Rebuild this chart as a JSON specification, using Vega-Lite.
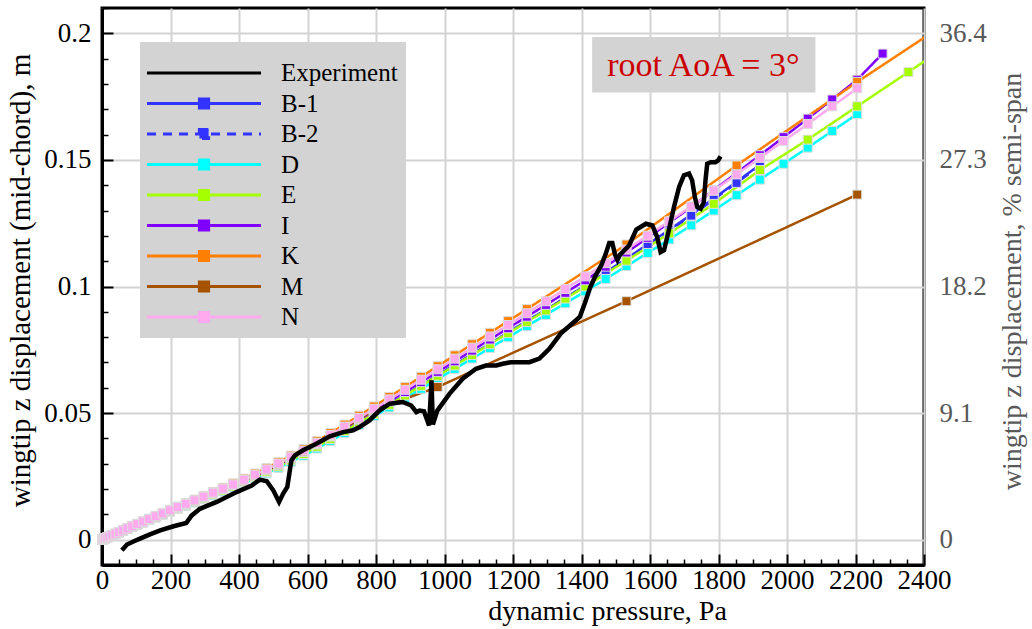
{
  "$schema": "https://vega.github.io/schema/vega-lite/v6.json",
  "width": 822,
  "height": 557,
  "autosize": {"type": "none"},
  "padding": {"left": 102, "top": 8, "right": 108, "bottom": 64},
  "background": "white",
  "config": {
    "font": "Liberation Serif",
    "view": {"stroke": "black", "strokeWidth": 3},
    "axis": {"labelFont": "Liberation Serif", "titleFont": "Liberation Serif", "labelFontSize": 27, "titleFontSize": 28, "titleFontWeight": "normal", "labelColor": "black", "titleColor": "black", "domainColor": "black", "domainWidth": 3, "tickColor": "black", "gridColor": "#d3d3d3", "gridWidth": 2, "labelOverlap": false, "labelFlush": false}
  },
  "datasets": {
    "sim": [
      {"q": 0, "B-1": 0, "B-2": 0, "D": 0, "E": 0, "I": 0, "K": 0, "M": 0, "N": 0},
      {"q": 0.61, "B-1": 0.00004, "B-2": 0.00004, "D": 0.00004, "E": 0.00004, "I": 0.00004, "K": 0.00004, "M": 0.00004, "N": 0.00004},
      {"q": 2.45, "B-1": 0.00014, "B-2": 0.00014, "D": 0.00014, "E": 0.00014, "I": 0.00015, "K": 0.00015, "M": 0.00015, "N": 0.00015},
      {"q": 5.51, "B-1": 0.00032, "B-2": 0.00032, "D": 0.00031, "E": 0.00032, "I": 0.00033, "K": 0.00034, "M": 0.00033, "N": 0.00033},
      {"q": 9.8, "B-1": 0.00057, "B-2": 0.00057, "D": 0.00056, "E": 0.00057, "I": 0.00058, "K": 0.0006, "M": 0.00058, "N": 0.00059},
      {"q": 15.31, "B-1": 0.00089, "B-2": 0.00089, "D": 0.00087, "E": 0.00089, "I": 0.00091, "K": 0.00094, "M": 0.00091, "N": 0.00092},
      {"q": 22.05, "B-1": 0.00127, "B-2": 0.00127, "D": 0.00124, "E": 0.00127, "I": 0.0013, "K": 0.00134, "M": 0.00131, "N": 0.00132},
      {"q": 30.01, "B-1": 0.00174, "B-2": 0.00174, "D": 0.0017, "E": 0.00173, "I": 0.00177, "K": 0.00183, "M": 0.00178, "N": 0.0018},
      {"q": 39.2, "B-1": 0.00227, "B-2": 0.00227, "D": 0.00222, "E": 0.00226, "I": 0.00231, "K": 0.00239, "M": 0.00233, "N": 0.00235},
      {"q": 49.61, "B-1": 0.00288, "B-2": 0.00288, "D": 0.00281, "E": 0.00287, "I": 0.00294, "K": 0.00303, "M": 0.00295, "N": 0.00298},
      {"q": 61.25, "B-1": 0.00355, "B-2": 0.00355, "D": 0.00347, "E": 0.00354, "I": 0.00362, "K": 0.00375, "M": 0.00364, "N": 0.00368},
      {"q": 74.11, "B-1": 0.00429, "B-2": 0.00429, "D": 0.0042, "E": 0.00428, "I": 0.00438, "K": 0.00453, "M": 0.00441, "N": 0.00445},
      {"q": 88.2, "B-1": 0.0051, "B-2": 0.0051, "D": 0.00499, "E": 0.00509, "I": 0.00521, "K": 0.00539, "M": 0.00524, "N": 0.00529},
      {"q": 103.51, "B-1": 0.00598, "B-2": 0.00598, "D": 0.00585, "E": 0.00596, "I": 0.00611, "K": 0.00631, "M": 0.00614, "N": 0.0062},
      {"q": 120.05, "B-1": 0.00689, "B-2": 0.00689, "D": 0.00673, "E": 0.00687, "I": 0.00703, "K": 0.00727, "M": 0.00707, "N": 0.00714},
      {"q": 137.81, "B-1": 0.00787, "B-2": 0.00787, "D": 0.0077, "E": 0.00785, "I": 0.00804, "K": 0.00831, "M": 0.00808, "N": 0.00816},
      {"q": 156.8, "B-1": 0.00892, "B-2": 0.00892, "D": 0.00871, "E": 0.00889, "I": 0.0091, "K": 0.00941, "M": 0.00915, "N": 0.00924},
      {"q": 177.01, "B-1": 0.01003, "B-2": 0.01003, "D": 0.0098, "E": 0.01, "I": 0.01023, "K": 0.01058, "M": 0.01029, "N": 0.01039},
      {"q": 198.45, "B-1": 0.0112, "B-2": 0.0112, "D": 0.01095, "E": 0.01117, "I": 0.01144, "K": 0.01182, "M": 0.01149, "N": 0.01161},
      {"q": 221.11, "B-1": 0.01241, "B-2": 0.01241, "D": 0.01213, "E": 0.01237, "I": 0.01267, "K": 0.01309, "M": 0.01273, "N": 0.01286},
      {"q": 245, "B-1": 0.01368, "B-2": 0.01368, "D": 0.01337, "E": 0.01364, "I": 0.01397, "K": 0.01444, "M": 0.01404, "N": 0.01418},
      {"q": 270.11, "B-1": 0.01502, "B-2": 0.01502, "D": 0.01467, "E": 0.01497, "I": 0.01533, "K": 0.01584, "M": 0.0154, "N": 0.01556},
      {"q": 296.45, "B-1": 0.01641, "B-2": 0.01641, "D": 0.01603, "E": 0.01635, "I": 0.01675, "K": 0.01731, "M": 0.01683, "N": 0.017},
      {"q": 324.01, "B-1": 0.01789, "B-2": 0.01789, "D": 0.01748, "E": 0.01784, "I": 0.01826, "K": 0.01887, "M": 0.01835, "N": 0.01854},
      {"q": 352.8, "B-1": 0.01945, "B-2": 0.01945, "D": 0.01901, "E": 0.01939, "I": 0.01986, "K": 0.02052, "M": 0.01996, "N": 0.02016},
      {"q": 382.81, "B-1": 0.02108, "B-2": 0.02108, "D": 0.0206, "E": 0.02101, "I": 0.02151, "K": 0.02223, "M": 0.02162, "N": 0.02184},
      {"q": 414.05, "B-1": 0.02284, "B-2": 0.02284, "D": 0.02232, "E": 0.02277, "I": 0.02331, "K": 0.0241, "M": 0.02343, "N": 0.02367},
      {"q": 446.51, "B-1": 0.02478, "B-2": 0.02478, "D": 0.02422, "E": 0.0247, "I": 0.02529, "K": 0.02614, "M": 0.02542, "N": 0.02568},
      {"q": 480.2, "B-1": 0.0268, "B-2": 0.0268, "D": 0.02619, "E": 0.02671, "I": 0.02735, "K": 0.02827, "M": 0.02749, "N": 0.02777},
      {"q": 515.11, "B-1": 0.02901, "B-2": 0.02901, "D": 0.02835, "E": 0.02892, "I": 0.02961, "K": 0.0306, "M": 0.02976, "N": 0.03006},
      {"q": 551.25, "B-1": 0.03145, "B-2": 0.03145, "D": 0.03073, "E": 0.03135, "I": 0.0321, "K": 0.03318, "M": 0.03226, "N": 0.03259},
      {"q": 588.61, "B-1": 0.03397, "B-2": 0.03397, "D": 0.03319, "E": 0.03386, "I": 0.03467, "K": 0.03583, "M": 0.03485, "N": 0.0352},
      {"q": 627.2, "B-1": 0.03684, "B-2": 0.03684, "D": 0.036, "E": 0.03673, "I": 0.03761, "K": 0.03887, "M": 0.0378, "N": 0.03818},
      {"q": 667.01, "B-1": 0.03991, "B-2": 0.03991, "D": 0.039, "E": 0.03979, "I": 0.04074, "K": 0.0421, "M": 0.04095, "N": 0.04136},
      {"q": 708.05, "B-1": 0.0431, "B-2": 0.0431, "D": 0.04211, "E": 0.04296, "I": 0.04399, "K": 0.04546, "M": 0.04421, "N": 0.04466},
      {"q": 750.31, "B-1": 0.04644, "B-2": 0.04644, "D": 0.04538, "E": 0.04629, "I": 0.0474, "K": 0.04899, "M": 0.04764, "N": 0.04812},
      {"q": 793.8, "B-1": 0.04988, "B-2": 0.04988, "D": 0.04874, "E": 0.04973, "I": 0.05091, "K": 0.05262, "M": 0.05117, "N": 0.05169},
      {"q": 838.51, "B-1": 0.05346, "B-2": 0.05346, "D": 0.05224, "E": 0.05329, "I": 0.05457, "K": 0.0564, "N": 0.0554},
      {"q": 884.45, "B-1": 0.05714, "B-2": 0.05714, "D": 0.05584, "E": 0.05696, "I": 0.05832, "K": 0.06028, "N": 0.05921},
      {"q": 931.61, "B-1": 0.06098, "B-2": 0.06098, "D": 0.05959, "E": 0.06079, "I": 0.06224, "K": 0.06433, "N": 0.06319},
      {"q": 980, "B-1": 0.06494, "B-2": 0.06494, "D": 0.06346, "E": 0.06474, "I": 0.06629, "K": 0.06851, "M": 0.0603, "N": 0.0673},
      {"q": 1029.61, "B-1": 0.06902, "B-2": 0.06902, "D": 0.06744, "E": 0.0688, "I": 0.07045, "K": 0.07281, "N": 0.07152},
      {"q": 1080.45, "B-1": 0.07319, "B-2": 0.07319, "D": 0.07152, "E": 0.07296, "I": 0.0747, "K": 0.07721, "N": 0.07584},
      {"q": 1132.51, "B-1": 0.07745, "B-2": 0.07745, "D": 0.07569, "E": 0.07721, "I": 0.07906, "K": 0.0817, "N": 0.08026},
      {"q": 1185.8, "B-1": 0.08182, "B-2": 0.08182, "D": 0.07996, "E": 0.08157, "I": 0.08352, "K": 0.08632, "N": 0.08479},
      {"q": 1240.31, "B-1": 0.0863, "B-2": 0.0863, "D": 0.08433, "E": 0.08603, "I": 0.08809, "K": 0.09104, "N": 0.08943},
      {"q": 1296.05, "B-1": 0.09086, "B-2": 0.09086, "D": 0.08879, "E": 0.09058, "I": 0.09275, "N": 0.09416},
      {"q": 1353.01, "B-1": 0.09554, "B-2": 0.09554, "D": 0.09336, "E": 0.09524, "I": 0.09752, "N": 0.099},
      {"q": 1411.2, "B-1": 0.10035, "B-2": 0.10035, "D": 0.09806, "E": 0.10004, "I": 0.10243, "N": 0.10399},
      {"q": 1470.61, "B-1": 0.10561, "B-2": 0.10531, "D": 0.10299, "I": 0.10785, "N": 0.10921},
      {"q": 1531.25, "B-1": 0.11103, "B-2": 0.11063, "D": 0.10805, "E": 0.11023, "I": 0.11345, "K": 0.1166, "M": 0.0942, "N": 0.11458},
      {"q": 1593.11, "B-1": 0.11662, "B-2": 0.11622, "D": 0.11324, "I": 0.11923, "N": 0.12009},
      {"q": 1656.2, "B-1": 0.12239, "B-2": 0.12199, "D": 0.11859, "E": 0.12098, "I": 0.1252, "N": 0.12576},
      {"q": 1720.51, "B-1": 0.1284, "B-2": 0.128, "D": 0.12415, "I": 0.13142, "N": 0.13165},
      {"q": 1786.05, "B-1": 0.13477, "B-2": 0.13437, "D": 0.13001, "E": 0.13263, "I": 0.13802, "N": 0.13787},
      {"q": 1852.81, "B-1": 0.14134, "B-2": 0.14094, "D": 0.13605, "I": 0.14483, "K": 0.1478, "N": 0.14427},
      {"q": 1920.8, "B-1": 0.14809, "B-2": 0.14769, "D": 0.1422, "E": 0.146, "I": 0.15183, "N": 0.1508},
      {"q": 1990.01, "D": 0.14847, "I": 0.15898, "N": 0.15744},
      {"q": 2060.45, "D": 0.15484, "E": 0.158, "I": 0.1663, "N": 0.1642},
      {"q": 2132.11, "D": 0.1614, "I": 0.17387, "N": 0.17115},
      {"q": 2205, "D": 0.16813, "E": 0.17116, "I": 0.18168, "K": 0.1808, "M": 0.1363, "N": 0.17829},
      {"q": 2279.11, "I": 0.192},
      {"q": 2354.45, "E": 0.1847},
      {"q": 2508.8, "E": 0.1987},
      {"q": 2587.81, "K": 0.215}
    ],
    "exp": [
      {"i": 0, "q": 58, "y": -0.0042}, {"i": 1, "q": 73, "y": -0.0019}, {"i": 2, "q": 95, "y": -0.0005}, {"i": 3, "q": 111, "y": 0.0004},
      {"i": 4, "q": 140, "y": 0.0021}, {"i": 5, "q": 170, "y": 0.0037}, {"i": 6, "q": 209, "y": 0.0053}, {"i": 7, "q": 246, "y": 0.0066},
      {"i": 8, "q": 262, "y": 0.0096}, {"i": 9, "q": 286, "y": 0.0122}, {"i": 10, "q": 335, "y": 0.0149}, {"i": 11, "q": 393, "y": 0.0188},
      {"i": 12, "q": 437, "y": 0.0214}, {"i": 13, "q": 461, "y": 0.0237}, {"i": 14, "q": 481, "y": 0.0231}, {"i": 15, "q": 500, "y": 0.0195},
      {"i": 16, "q": 517, "y": 0.0149}, {"i": 17, "q": 529, "y": 0.0182}, {"i": 18, "q": 541, "y": 0.0208}, {"i": 19, "q": 547, "y": 0.0261},
      {"i": 20, "q": 553, "y": 0.0313}, {"i": 21, "q": 563, "y": 0.0333}, {"i": 22, "q": 587, "y": 0.0353}, {"i": 23, "q": 626, "y": 0.0379},
      {"i": 24, "q": 665, "y": 0.0408}, {"i": 25, "q": 704, "y": 0.0425}, {"i": 26, "q": 733, "y": 0.0432}, {"i": 27, "q": 752, "y": 0.0445},
      {"i": 28, "q": 781, "y": 0.0471}, {"i": 29, "q": 810, "y": 0.051}, {"i": 30, "q": 840, "y": 0.0537}, {"i": 31, "q": 878, "y": 0.0544},
      {"i": 32, "q": 903, "y": 0.053}, {"i": 33, "q": 918, "y": 0.0504}, {"i": 34, "q": 927, "y": 0.051}, {"i": 35, "q": 940, "y": 0.0507},
      {"i": 36, "q": 955, "y": 0.0451}, {"i": 37, "q": 962, "y": 0.0629}, {"i": 38, "q": 966, "y": 0.0455}, {"i": 39, "q": 979, "y": 0.051},
      {"i": 40, "q": 1015, "y": 0.0577}, {"i": 41, "q": 1053, "y": 0.0636}, {"i": 42, "q": 1092, "y": 0.0675}, {"i": 43, "q": 1121, "y": 0.0688},
      {"i": 44, "q": 1151, "y": 0.0688}, {"i": 45, "q": 1170, "y": 0.0695}, {"i": 46, "q": 1194, "y": 0.0701}, {"i": 47, "q": 1218, "y": 0.0701},
      {"i": 48, "q": 1248, "y": 0.0701}, {"i": 49, "q": 1277, "y": 0.0715}, {"i": 50, "q": 1306, "y": 0.0754}, {"i": 51, "q": 1340, "y": 0.0815},
      {"i": 52, "q": 1374, "y": 0.0855}, {"i": 53, "q": 1395, "y": 0.088}, {"i": 54, "q": 1410, "y": 0.0935}, {"i": 55, "q": 1425, "y": 0.0995},
      {"i": 56, "q": 1440, "y": 0.104}, {"i": 57, "q": 1458, "y": 0.1085}, {"i": 58, "q": 1471, "y": 0.113}, {"i": 59, "q": 1481, "y": 0.1172},
      {"i": 60, "q": 1490, "y": 0.1172}, {"i": 61, "q": 1498, "y": 0.1125}, {"i": 62, "q": 1505, "y": 0.1105}, {"i": 63, "q": 1512, "y": 0.1125},
      {"i": 64, "q": 1539, "y": 0.1162}, {"i": 65, "q": 1560, "y": 0.1225}, {"i": 66, "q": 1588, "y": 0.1248}, {"i": 67, "q": 1607, "y": 0.1241},
      {"i": 68, "q": 1621, "y": 0.1195}, {"i": 69, "q": 1631, "y": 0.1136}, {"i": 70, "q": 1641, "y": 0.1143}, {"i": 71, "q": 1655, "y": 0.1222},
      {"i": 72, "q": 1670, "y": 0.1314}, {"i": 73, "q": 1685, "y": 0.1393}, {"i": 74, "q": 1699, "y": 0.1439}, {"i": 75, "q": 1714, "y": 0.1446},
      {"i": 76, "q": 1723, "y": 0.1419}, {"i": 77, "q": 1731, "y": 0.1353}, {"i": 78, "q": 1738, "y": 0.1314}, {"i": 79, "q": 1748, "y": 0.1307},
      {"i": 80, "q": 1757, "y": 0.1333}, {"i": 81, "q": 1762, "y": 0.1419}, {"i": 82, "q": 1767, "y": 0.1485}, {"i": 83, "q": 1777, "y": 0.1491},
      {"i": 84, "q": 1791, "y": 0.1491}, {"i": 85, "q": 1799, "y": 0.1498}, {"i": 86, "q": 1806, "y": 0.1514}
    ]
  },
  "resolve": {"axis": {"x": "independent", "y": "independent"}},
  "layer": [
    {
      "data": {"values": [{"q": 1431, "q2": 2083, "y": 0.17658, "y2": 0.19854}]},
      "mark": {"type": "rect", "color": "#d3d3d3"},
      "encoding": {
        "x": {"field": "q", "type": "quantitative", "scale": {"domain": [0, 2400], "nice": false, "zero": false},
          "axis": {"orient": "bottom", "values": [0, 200, 400, 600, 800, 1000, 1200, 1400, 1600, 1800, 2000, 2200, 2400], "format": "d",
            "grid": true, "ticks": true, "domain": true, "tickSize": -11, "tickWidth": 2,
            "labelPadding": 13, "title": "dynamic pressure, Pa", "titlePadding": 4, "titleX": 505}},
        "x2": {"field": "q2"},
        "y": {"field": "y", "type": "quantitative", "scale": {"domain": [-0.01, 0.21], "nice": false, "zero": false},
          "axis": {"orient": "left", "values": [0, 0.05, 0.1, 0.15, 0.2],
            "labelExpr": "toString(round(datum.value*100)/100)",
            "grid": true, "ticks": true, "domain": true, "tickSize": -11, "tickWidth": 2,
            "labelPadding": 22, "title": "wingtip z displacement (mid-chord), m", "titleFontSize": 29, "titlePadding": 8, "titleY": 272}},
        "y2": {"field": "y2"}
      }
    },
    {
      "data": {"values": [{"q": 1756, "y": 0.1831, "label": "root AoA = 3°"}]},
      "mark": {"type": "text", "font": "Liberation Serif", "fontSize": 34, "color": "#cc0000", "align": "center", "baseline": "alphabetic"},
      "encoding": {
        "x": {"field": "q", "type": "quantitative", "scale": {"domain": [0, 2400], "nice": false, "zero": false},
          "axis": {"orient": "bottom", "values": [50,100,150,250,300,350,450,500,550,650,700,750,850,900,950,1050,1100,1150,1250,1300,1350,1450,1500,1550,1650,1700,1750,1850,1900,1950,2050,2100,2150,2250,2300,2350],
            "labels": false, "grid": false, "domain": false, "ticks": true, "tickSize": -6, "tickWidth": 1.5, "title": null}},
        "y": {"field": "y", "type": "quantitative", "scale": {"domain": [-0.01, 0.21], "nice": false, "zero": false},
          "axis": {"orient": "right", "values": [0, 0.05, 0.1, 0.15, 0.2], "labelExpr": "datum.value === 0 ? '0' : format(datum.value*182, '.1f')", "ticks": false, "grid": false, "domain": false, "labelPadding": 15, "labelColor": "#595959", "titleColor": "#595959", "title": "wingtip z displacement, % semi-span", "titleAngle": 270, "titleBaseline": "top", "titlePadding": 12, "titleY": 273}},
        "text": {"field": "label"}
      }
    },
    {
      "data": {"name": "sim"},
      "transform": [{"fold": ["B-1", "B-2", "D", "E", "I", "K", "M", "N"], "as": ["series", "y"]}, {"filter": "isValid(datum.y)"}],
      "mark": {"type": "line", "strokeWidth": 2.5, "clip": true},
      "encoding": {
        "x": {"field": "q", "type": "quantitative", "scale": {"domain": [0, 2400], "nice": false, "zero": false}, "axis": null},
        "y": {"field": "y", "type": "quantitative", "scale": {"domain": [-0.01, 0.21], "nice": false, "zero": false},
          "axis": {"orient": "left", "values": [-0.01,0.01,0.02,0.03,0.04,0.06,0.07,0.08,0.09,0.11,0.12,0.13,0.14,0.16,0.17,0.18,0.19,0.21],
            "labels": false, "grid": false, "domain": false, "ticks": true, "tickSize": -6, "tickWidth": 1.5, "title": null}},
        "color": {"field": "series", "type": "nominal",
          "scale": {"domain": ["Experiment", "B-1", "B-2", "D", "E", "I", "K", "M", "N"], "range": ["#000000", "#3333ff", "#3333ff", "#00ffff", "#a6ff00", "#8000ff", "#ff8000", "#a65300", "#ffaaee"]},
          "legend": {"orient": "none", "legendX": 38, "legendY": 34, "title": " ", "titleFontSize": 6, "titlePadding": 4.5, "fillColor": "#d3d3d3", "padding": 8, "labelFont": "Liberation Serif", "labelFontSize": 25, "labelColor": "black", "labelOffset": 64.5, "symbolOffset": 43.5, "rowPadding": 4.5, "symbolSize": 100, "symbolStrokeWidth": 3, "labelLimit": 400,
            "encode": {"symbols": {"update": {
              "shape": {"signal": "datum.value === 'Experiment' ? 'M-11.4,0H11.4' : 'M-11.4,0H11.4M-0.92,-0.92H0.92V0.92H-0.92Z'"},
              "fill": {"scale": "color", "field": "value"},
              "stroke": {"scale": "color", "field": "value"},
              "strokeDash": {"signal": "datum.value === 'B-2' ? [9,7] : [1,0]"},
              "strokeWidth": {"value": 3},
              "size": {"value": 100},
              "opacity": {"value": 1}
            }}}}},
        "strokeDash": {"field": "series", "type": "nominal",
          "scale": {"domain": ["Experiment", "B-1", "B-2", "D", "E", "I", "K", "M", "N"], "range": [[1, 0], [1, 0], [9, 7], [1, 0], [1, 0], [1, 0], [1, 0], [1, 0], [1, 0]]}, "legend": null}
      }
    },
    {
      "data": {"name": "sim"},
      "transform": [{"fold": ["B-1", "B-2", "D", "E", "I", "K", "M", "N"], "as": ["series", "y"]}, {"filter": "isValid(datum.y)"}, {"filter": "datum.q <= 2400"}],
      "mark": {"type": "point", "shape": "square", "filled": true, "size": 81, "stroke": "#dddddd", "strokeWidth": 1, "opacity": 1},
      "encoding": {
        "x": {"field": "q", "type": "quantitative", "scale": {"domain": [0, 2400], "nice": false, "zero": false}, "axis": null},
        "y": {"field": "y", "type": "quantitative", "scale": {"domain": [-0.01, 0.21], "nice": false, "zero": false}, "axis": null},
        "color": {"field": "series", "type": "nominal", "legend": null},
        "order": {"field": "series", "type": "ordinal", "sort": "ascending"}
      }
    },
    {
      "data": {"name": "exp"},
      "mark": {"type": "line", "strokeWidth": 4.5, "color": "#000000", "clip": true},
      "encoding": {
        "x": {"field": "q", "type": "quantitative", "scale": {"domain": [0, 2400], "nice": false, "zero": false}, "axis": null},
        "y": {"field": "y", "type": "quantitative", "scale": {"domain": [-0.01, 0.21], "nice": false, "zero": false}, "axis": null},
        "order": {"field": "i", "type": "quantitative"}
      }
    }
  ]
}
